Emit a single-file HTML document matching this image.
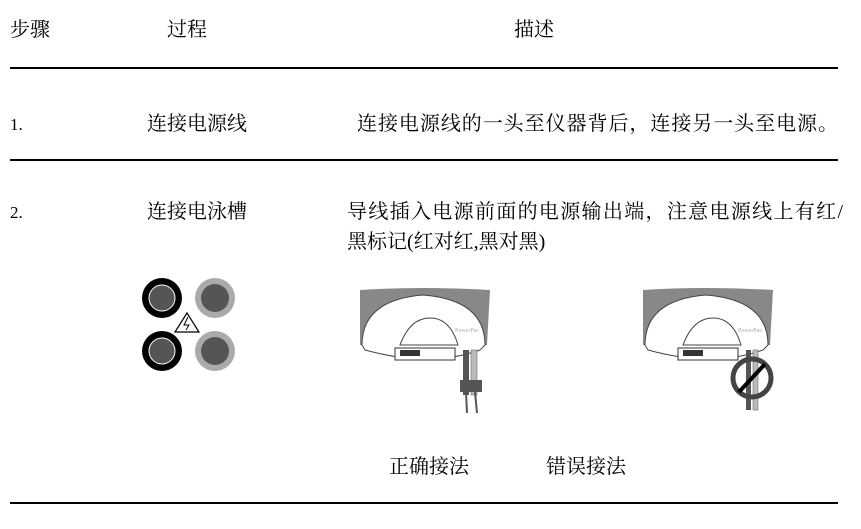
<!DOCTYPE html>
<html><head><meta charset="utf-8"><style>
body{margin:0;background:#fff;}
svg text{font-family:"Liberation Serif","Noto Serif CJK SC",serif;font-size:20px;fill:#000;}
</style></head><body>
<svg width="861" height="524" xmlns="http://www.w3.org/2000/svg">
<text x="10" y="36">步骤</text>
<text x="167" y="36">过程</text>
<text x="514" y="36">描述</text>
<line x1="10" y1="68" x2="838" y2="68" stroke="#000" stroke-width="2"/>
<text x="10" y="130" style="font-size:17px">1.</text>
<text x="147" y="130">连接电源线</text>
<text x="357" y="130" textLength="481">连接电源线的一头至仪器背后，连接另一头至电源。</text>
<line x1="10" y1="160" x2="838" y2="160" stroke="#000" stroke-width="2"/>
<text x="10" y="218" style="font-size:17px">2.</text>
<text x="147" y="218">连接电泳槽</text>
<text x="347" y="218" textLength="496">导线插入电源前面的电源输出端，注意电源线上有红/</text>
<text x="347" y="248">黑标记(红对红,黑对黑)</text>
<g>
<circle cx="162" cy="298" r="20" fill="#000"/><circle cx="162" cy="298" r="13" fill="#555" stroke="#fff" stroke-width="1"/>
<circle cx="215" cy="298" r="20" fill="#aaa"/><circle cx="215" cy="298" r="14" fill="#555"/>
<circle cx="162" cy="351" r="20" fill="#000"/><circle cx="162" cy="351" r="13" fill="#555" stroke="#fff" stroke-width="1"/>
<circle cx="215" cy="351" r="20" fill="#aaa"/><circle cx="215" cy="351" r="14" fill="#555"/>
<polygon points="187,313 175,332 199,332" fill="#fff" stroke="#000" stroke-width="1.2"/>
<path d="M188,317 L184,325 L189,325 L186,330" stroke="#000" fill="none"/>
</g>
<g id="d1">
<path d="M360,290 Q420,286 490,290 L487,345 L360,345 Z" fill="#888"/>
<path d="M362,345 Q362,300 423,295 Q485,300 485,345 L480,350 Q430,368 365,350 Z" fill="#fff" stroke="#444"/>
<path d="M400,345 Q410,318 430,318 Q450,318 458,345 Z" fill="#fff" stroke="#444"/>
<rect x="395" y="348" width="60" height="12" fill="#fff" stroke="#333"/>
<rect x="400" y="350" width="20" height="6" fill="#333"/>
<text x="455" y="332" style="font-size:6px;fill:#aaa">PowerPac</text>
</g>
<rect x="463" y="350" width="6" height="45" fill="#555"/>
<rect x="471" y="350" width="6" height="45" fill="#bbb" stroke="#555" stroke-width="0.5"/>
<rect x="460" y="380" width="22" height="12" fill="#555"/>
<line x1="466" y1="392" x2="467" y2="413" stroke="#555" stroke-width="2"/>
<line x1="475" y1="392" x2="477" y2="413" stroke="#555" stroke-width="2"/>
<use href="#d1" x="283" y="0"/>
<rect x="746" y="350" width="5" height="60" fill="#555"/>
<rect x="753" y="350" width="5" height="60" fill="#bbb" stroke="#555" stroke-width="0.5"/>
<circle cx="752" cy="378" r="19" fill="none" stroke="#444" stroke-width="5"/>
<line x1="739" y1="392" x2="765" y2="364" stroke="#000" stroke-width="4"/>
<text x="389" y="473">正确接法</text>
<text x="546" y="473">错误接法</text>
<line x1="10" y1="503" x2="838" y2="503" stroke="#000" stroke-width="2"/>
</svg>
</body></html>
